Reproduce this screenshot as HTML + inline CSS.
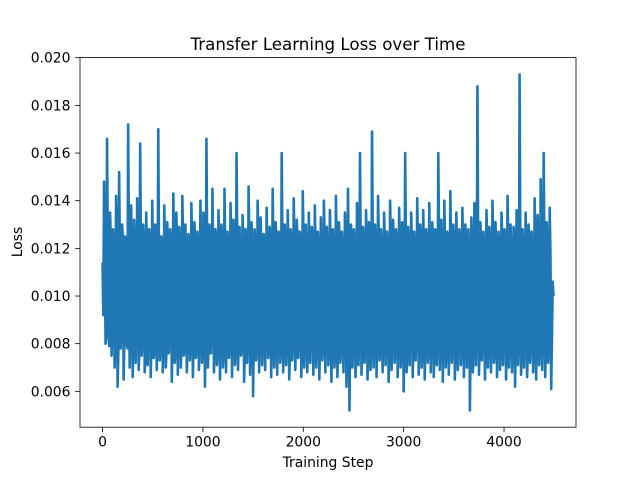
<!DOCTYPE html>
<html><head><meta charset="utf-8"><style>
body{margin:0;background:#fff}
svg{display:block;font-family:"DejaVu Sans","Liberation Sans",sans-serif}
</style></head><body>
<svg id="chart" width="640" height="480" viewBox="0 0 640 480">
<rect width="640" height="480" fill="#fff"/>
<text x="328" y="50" font-size="16.67" text-anchor="middle" fill="#000">Transfer Learning Loss over Time</text>
<g id="plot"></g>
<text x="328" y="467" font-size="13.9" text-anchor="middle">Training Step</text>
<text x="22" y="242" font-size="13.9" text-anchor="middle" transform="rotate(-90 22 242)">Loss</text>
</svg>
<script>
const stepSize = 7.5;
const lossValues = [
0.0114,0.0148,0.0080,0.0166,0.0082,0.0135,0.0075,0.0128,0.0070,0.0142,0.0062,0.0152,0.0078,0.0130,0.0065,0.0125,0.0080,0.0172,0.0070,0.0138,
0.0066,0.0132,0.0072,0.0141,0.0069,0.0164,0.0075,0.0130,0.0068,0.0135,0.0071,0.0128,0.0066,0.0140,0.0074,0.0130,0.0069,0.0170,0.0073,0.0125,
0.0068,0.0138,0.0070,0.0131,0.0076,0.0128,0.0064,0.0143,0.0072,0.0135,0.0067,0.0129,0.0070,0.0142,0.0075,0.0130,0.0068,0.0126,0.0073,0.0139,
0.0066,0.0131,0.0074,0.0127,0.0069,0.0140,0.0072,0.0135,0.0062,0.0166,0.0070,0.0130,0.0076,0.0145,0.0068,0.0128,0.0071,0.0136,0.0065,0.0130,
0.0070,0.0145,0.0068,0.0127,0.0074,0.0139,0.0066,0.0132,0.0071,0.0160,0.0069,0.0129,0.0075,0.0134,0.0064,0.0128,0.0072,0.0146,0.0067,0.0131,
0.0058,0.0128,0.0073,0.0140,0.0068,0.0133,0.0071,0.0126,0.0069,0.0137,0.0074,0.0129,0.0066,0.0145,0.0070,0.0131,0.0067,0.0127,0.0072,0.0160,
0.0068,0.0130,0.0071,0.0136,0.0065,0.0128,0.0073,0.0141,0.0069,0.0132,0.0074,0.0127,0.0066,0.0144,0.0070,0.0130,0.0068,0.0135,0.0072,0.0129,
0.0067,0.0138,0.0070,0.0127,0.0065,0.0133,0.0073,0.0140,0.0068,0.0129,0.0071,0.0136,0.0064,0.0128,0.0070,0.0142,0.0066,0.0131,0.0072,0.0127,
0.0068,0.0135,0.0062,0.0145,0.0052,0.0130,0.0070,0.0128,0.0066,0.0139,0.0071,0.0160,0.0067,0.0129,0.0072,0.0136,0.0065,0.0131,0.0069,0.0169,
0.0070,0.0130,0.0066,0.0142,0.0073,0.0128,0.0068,0.0135,0.0071,0.0127,0.0064,0.0140,0.0069,0.0132,0.0072,0.0128,0.0066,0.0137,0.0070,0.0131,
0.0060,0.0160,0.0068,0.0129,0.0071,0.0135,0.0066,0.0127,0.0073,0.0141,0.0067,0.0130,0.0070,0.0136,0.0065,0.0128,0.0072,0.0139,0.0068,0.0131,
0.0066,0.0128,0.0071,0.0160,0.0069,0.0132,0.0064,0.0140,0.0070,0.0127,0.0067,0.0144,0.0072,0.0130,0.0065,0.0135,0.0069,0.0128,0.0071,0.0137,
0.0066,0.0130,0.0070,0.0128,0.0052,0.0133,0.0068,0.0139,0.0071,0.0188,0.0067,0.0131,0.0073,0.0127,0.0065,0.0136,0.0070,0.0129,0.0068,0.0140,
0.0072,0.0131,0.0066,0.0127,0.0069,0.0135,0.0071,0.0128,0.0065,0.0142,0.0070,0.0130,0.0068,0.0129,0.0062,0.0136,0.0071,0.0193,0.0067,0.0128,
0.0070,0.0135,0.0066,0.0130,0.0072,0.0127,0.0068,0.0141,0.0065,0.0134,0.0071,0.0149,0.0069,0.0160,0.0066,0.0131,0.0072,0.0137,0.0061,0.0106
];
const lossValuesMid = [
0.0092,0.0120,0.0085,0.0118,0.0079,0.0123,0.0088,0.0116,0.0081,0.0121,0.0077,0.0119,0.0090,0.0124,0.0083,0.0117,0.0078,0.0122,0.0086,0.0120,
0.0080,0.0118,0.0087,0.0123,0.0079,0.0116,0.0084,0.0121,0.0076,0.0119,0.0089,0.0122,0.0082,0.0117,0.0078,0.0124,0.0085,0.0118,0.0080,0.0121,
0.0083,0.0119,0.0077,0.0122,0.0088,0.0117,0.0081,0.0120,0.0079,0.0123,0.0086,0.0118,0.0082,0.0121,0.0078,0.0116,0.0087,0.0124,0.0080,0.0119,
0.0084,0.0122,0.0079,0.0117,0.0085,0.0120,0.0077,0.0123,0.0083,0.0118,0.0081,0.0121,0.0088,0.0116,0.0079,0.0124,0.0082,0.0119,0.0086,0.0122,
0.0078,0.0117,0.0084,0.0120,0.0080,0.0123,0.0087,0.0118,0.0079,0.0121,0.0083,0.0116,0.0081,0.0124,0.0077,0.0119,0.0085,0.0122,0.0082,0.0117,
0.0086,0.0120,0.0079,0.0123,0.0084,0.0118,0.0080,0.0121,0.0088,0.0116,0.0078,0.0124,0.0083,0.0119,0.0081,0.0122,0.0087,0.0117,0.0079,0.0120,
0.0082,0.0123,0.0085,0.0118,0.0077,0.0121,0.0084,0.0116,0.0080,0.0124,0.0086,0.0119,0.0079,0.0122,0.0083,0.0117,0.0081,0.0120,0.0088,0.0123,
0.0078,0.0118,0.0085,0.0121,0.0082,0.0116,0.0079,0.0124,0.0087,0.0119,0.0080,0.0122,0.0084,0.0117,0.0077,0.0120,0.0083,0.0123,0.0081,0.0118,
0.0086,0.0121,0.0079,0.0116,0.0085,0.0124,0.0082,0.0119,0.0078,0.0122,0.0088,0.0117,0.0080,0.0120,0.0084,0.0123,0.0079,0.0118,0.0083,0.0121,
0.0081,0.0116,0.0087,0.0124,0.0077,0.0119,0.0085,0.0122,0.0082,0.0117,0.0079,0.0120,0.0086,0.0123,0.0080,0.0118,0.0084,0.0121,0.0078,0.0116,
0.0083,0.0124,0.0081,0.0119,0.0088,0.0122,0.0079,0.0117,0.0085,0.0120,0.0082,0.0123,0.0077,0.0118,0.0086,0.0121,0.0080,0.0116,0.0084,0.0124,
0.0079,0.0119,0.0083,0.0122,0.0081,0.0117,0.0087,0.0120,0.0078,0.0123,0.0085,0.0118,0.0082,0.0121,0.0080,0.0116,0.0086,0.0124,0.0079,0.0119,
0.0084,0.0122,0.0077,0.0117,0.0083,0.0120,0.0081,0.0123,0.0088,0.0118,0.0080,0.0121,0.0085,0.0116,0.0079,0.0124,0.0082,0.0119,0.0086,0.0122,
0.0078,0.0117,0.0084,0.0120,0.0080,0.0123,0.0087,0.0118,0.0079,0.0121,0.0083,0.0116,0.0081,0.0124,0.0085,0.0119,0.0082,0.0122,0.0077,0.0117,
0.0086,0.0120,0.0080,0.0123,0.0084,0.0118,0.0079,0.0121,0.0083,0.0116,0.0081,0.0124,0.0088,0.0119,0.0078,0.0122,0.0085,0.0117,0.0082,0.0100
];
const xTicks = [0,1000,2000,3000,4000];
const yTicks = [0.006,0.008,0.010,0.012,0.014,0.016,0.018,0.020];
const yTickLabels = ["0.006","0.008","0.010","0.012","0.014","0.016","0.018","0.020"];

const series = [];
lossValues.forEach((v,i)=>{ series.push(v); if(i<lossValuesMid.length) series.push(lossValuesMid[i]); });
const L=80,R=576,T=57.6,B=427.2;
const steps = series.map((v,i)=>i*stepSize);
const xmaxD = steps[steps.length-1];
const xpad = xmaxD*0.05;
const x0=-xpad, x1=xmaxD+xpad;
const ymn=Math.min(...series), ymx=Math.max(...series), yp=(ymx-ymn)*0.05;
const y0=ymn-yp, y1=ymx+yp;
const sx=v=>L+(v-x0)/(x1-x0)*(R-L);
const sy=v=>B-(v-y0)/(y1-y0)*(B-T);
const NS="http://www.w3.org/2000/svg";
const g=document.getElementById('plot');
function mk(t,a){const e=document.createElementNS(NS,t);for(const k in a)e.setAttribute(k,a[k]);return e;}

const line=mk('polyline',{points:series.map((v,i)=>sx(steps[i]).toFixed(2)+','+sy(v).toFixed(2)).join(' '),fill:'none',stroke:'#1f77b4','stroke-width':2.6,'stroke-linejoin':'round'});


g.appendChild(line);

const frame=mk('rect',{x:L,y:T,width:R-L,height:B-T,fill:'none',stroke:'#000','stroke-width':0.8});


g.appendChild(frame);

xTicks.forEach(t=>{
  const x=sx(t);
  const tk=mk('line',{x1:x,x2:x,y1:B,y2:B+4.9,stroke:'#000','stroke-width':0.8});
  
  
  g.appendChild(tk);
  const tx=mk('text',{x:x,y:B+19.5,'font-size':13.9,'text-anchor':'middle'});
  tx.textContent=String(t);
  
  
  g.appendChild(tx);
});
yTicks.forEach((t,i)=>{
  const y=sy(t);
  if(y<T-1)return;
  const tk=mk('line',{x1:L-4.9,x2:L,y1:y,y2:y,stroke:'#000','stroke-width':0.8});
  
  
  g.appendChild(tk);
  const tx=mk('text',{x:L-9.5,y:y+5,'font-size':13.9,'text-anchor':'end'});
  tx.textContent=yTickLabels[i];
  
  
  g.appendChild(tx);
});
</script>
</body></html>
